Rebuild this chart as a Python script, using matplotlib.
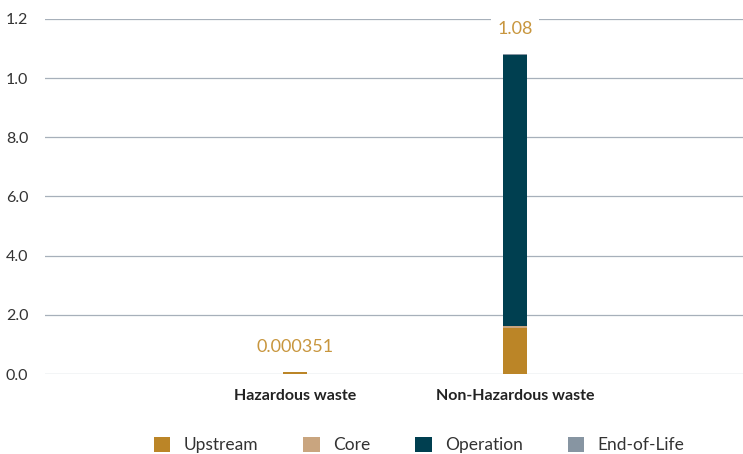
import numpy as np
import matplotlib.pyplot as plt
from matplotlib.patches import Patch

plt.rcParams['font.family'] = ['Lato', 'DejaVu Sans']

categories = ['Hazardous waste', 'Non-Hazardous waste']
stages = ['Upstream', 'Core', 'Operation', 'End-of-Life']
upstream = [0.000351, 0.155]
core = [0.0, 0.006]
operation = [0.0, 0.916]
end_of_life = [0.0, 0.004]
totals = ['0.000351', '1.08']
tick_values = [0.0, 0.2, 0.4, 0.6, 0.8, 1.0, 1.2]
tick_labels = ['0.0', '2.0', '4.0', '6.0', '8.0', '1.0', '1.2']

colors = ['#BB8527', '#C9A57F', '#003F50', '#8795A2']
label_color = '#C8963E'
grid_color = '#A7B0BA'
min_visible = 0.006  # keeps the tiny hazardous bar visible

fig = plt.figure(figsize=(7.43, 4.54), dpi=100)
ax = fig.add_axes([45 / 743, 1 - 374 / 454, 1 - 45 / 743, 355 / 454])

x = np.arange(len(categories))
series = [upstream, core, operation, end_of_life]
bottom = np.zeros(len(categories))
for vals, col in zip(series, colors):
    h = np.array(vals, dtype=float)
    if vals is upstream:
        h = np.where((h > 0) & (h < min_visible), min_visible, h)
    ax.bar(x, h, width=0.105, bottom=bottom, color=col, zorder=3)
    bottom += h

for xi, top, txt in zip(x, bottom, totals):
    ax.annotate(txt, (xi, top), xytext=(0, 18), textcoords='offset points',
                ha='center', va='center', fontsize=13, color=label_color,
                bbox=dict(boxstyle='square,pad=0.35', fc='white', ec='none'),
                zorder=5)

ax.set_xlim(-1.136, 2.036)
ax.set_ylim(0, 1.2)
ax.set_yticks(tick_values)
ax.set_yticklabels(tick_labels, fontsize=11.5, color='#333333')
ax.set_xticks(x)
ax.set_xticklabels(categories, fontsize=11.5, fontweight='bold', color='#222222')
ax.tick_params(axis='x', length=0, pad=11)
ax.tick_params(axis='y', length=0, pad=12)
ax.yaxis.grid(True, color=grid_color, linewidth=0.9, zorder=0)
ax.set_axisbelow(True)
for s in ax.spines.values():
    s.set_visible(False)

handles = [Patch(facecolor=c, edgecolor='none') for c in colors]
fig.legend(handles, stages, loc='center', bbox_to_anchor=(419 / 743, 1 - 445 / 454),
           ncol=4, frameon=False, fontsize=12.5, handlelength=0.95, handleheight=0.95,
           columnspacing=2.6, handletextpad=0.75, labelcolor='#333333')

fig.savefig('out.png', dpi=100)
